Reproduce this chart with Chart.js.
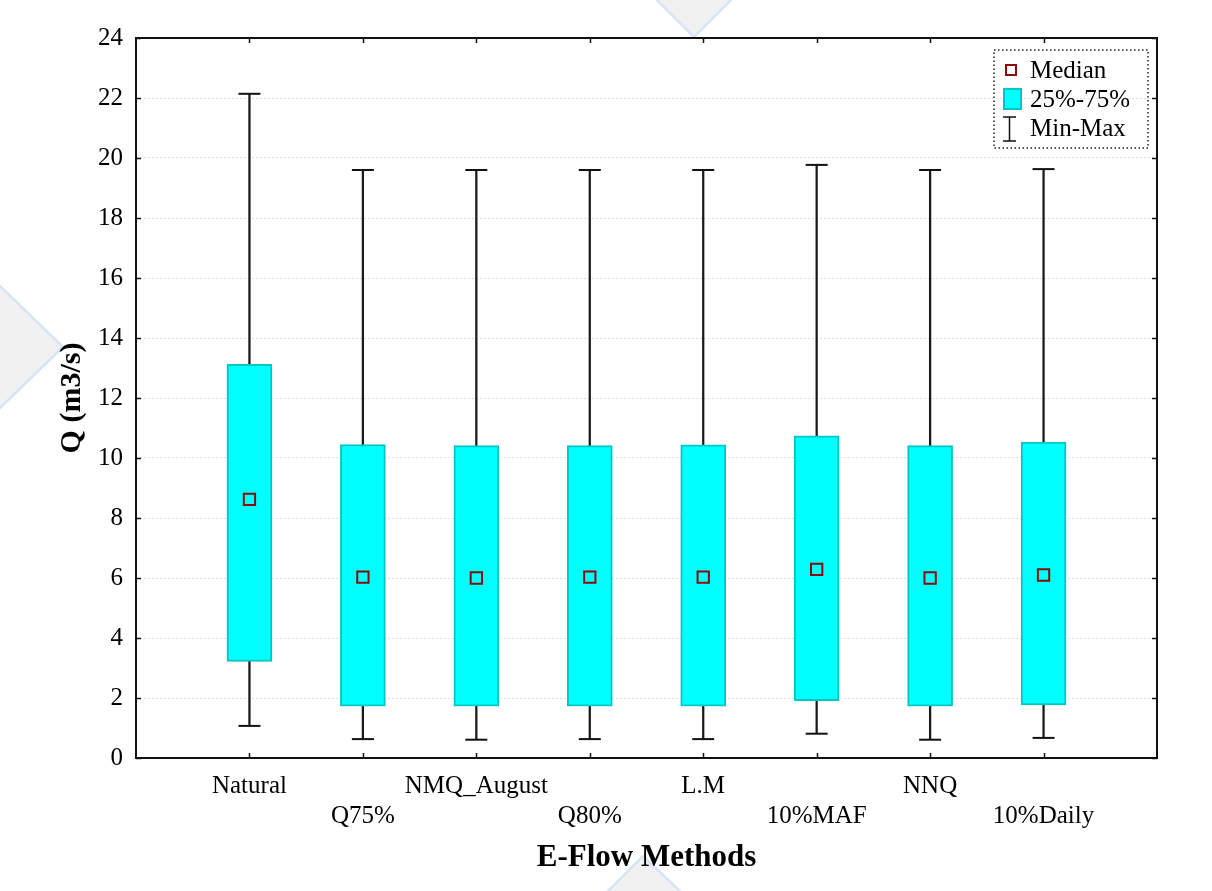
<!DOCTYPE html>
<html>
<head>
<meta charset="utf-8">
<title>E-Flow Methods</title>
<script src="https://cdn.jsdelivr.net/npm/chart.js@4.4.1/dist/chart.umd.min.js"></script>
<style>
  html, body { margin: 0; padding: 0; background: #ffffff; }
  #wrap { position: relative; width: 1212px; height: 891px; }
  #bg { position: absolute; left: 0; top: 0; }
  #chart { position: absolute; left: 0; top: 0; }
</style>
</head>
<body>
<div id="wrap">
  <svg id="bg" width="1212" height="891">
    <g fill="#f1f1f1" stroke="#d5e5f5" stroke-width="2.5">
      <polygon points="655,-2 733,-2 694,37"/>
      <polygon points="-2,284 63,347 -2,410"/>
      <polygon points="606,893 643,856 682,893"/>
    </g>
  </svg>
  <canvas id="chart" width="1212" height="891"></canvas>
</div>
<script>
// Methods along the horizontal axis
const methods = ['Natural', 'Q75%', 'NMQ_August', 'Q80%', 'L.M', '10%MAF', 'NNQ', '10%Daily'];

// Discharge statistics, Q (m3/s), one entry per method
const minQ    = [1.07, 0.63, 0.61, 0.63, 0.63, 0.81, 0.61, 0.67];
const q25     = [3.22, 1.73, 1.73, 1.73, 1.73, 1.91, 1.73, 1.77];
const medianQ = [8.62, 6.03, 6.00, 6.03, 6.03, 6.29, 6.00, 6.10];
const q75     = [13.12, 10.45, 10.41, 10.41, 10.44, 10.74, 10.41, 10.53];
const maxQ    = [22.14, 19.60, 19.60, 19.60, 19.60, 19.77, 19.60, 19.63];

// Value axis ticks
const yTicks = [0, 2, 4, 6, 8, 10, 12, 14, 16, 18, 20, 22, 24];

// Legend entries
const legendItems = ['Median', '25%-75%', 'Min-Max'];

const FONT = '"Liberation Serif", "Times New Roman", serif';
const CYAN = '#00ffff';
const CYAN_EDGE = '#00c6c6';
const MED_EDGE = '#8b0a0a';

const pos = methods.map((m, i) => i + 1);

const medianData = pos.map((x, i) => ({ x, y: medianQ[i] }));
const boxData = pos.map((x, i) => ({ x, y: [q25[i], q75[i]] }));
const capData = pos.map((x, i) => ({ x, y: minQ[i] }))
  .concat(pos.map((x, i) => ({ x, y: maxQ[i] })));
const stemData = pos.map((x, i) => ({ x, y: [minQ[i], maxQ[i]] }));

// Frame, inner tick marks and legend box
const framePlugin = {
  id: 'frame',
  afterDraw(chart) {
    const { ctx, chartArea: a, scales } = chart;
    ctx.save();
    ctx.strokeStyle = '#111';
    ctx.lineWidth = 2;
    ctx.strokeRect(a.left, a.top, a.right - a.left, a.bottom - a.top);

    ctx.lineWidth = 1.5;
    ctx.beginPath();
    pos.forEach(v => {
      const x = Math.round(scales.x.getPixelForValue(v)) + 0.5;
      ctx.moveTo(x, a.bottom); ctx.lineTo(x, a.bottom - 5);
      ctx.moveTo(x, a.top); ctx.lineTo(x, a.top + 5);
    });
    yTicks.forEach(v => {
      const y = Math.round(scales.y.getPixelForValue(v)) + 0.5;
      ctx.moveTo(a.left, y); ctx.lineTo(a.left + 5, y);
      ctx.moveTo(a.right, y); ctx.lineTo(a.right - 5, y);
    });
    ctx.stroke();

    // legend
    const lx = 994, ly = 50, lw = 154, lh = 98;
    ctx.setLineDash([1.5, 2.5]);
    ctx.lineWidth = 1.5;
    ctx.strokeStyle = '#222';
    ctx.strokeRect(lx, ly, lw, lh);
    ctx.setLineDash([]);

    const rows = [70, 99, 128];
    // median icon
    ctx.strokeStyle = MED_EDGE;
    ctx.lineWidth = 2;
    ctx.strokeRect(1006, rows[0] - 5, 10, 10);
    // quartile box icon
    ctx.fillStyle = CYAN;
    ctx.fillRect(1003, rows[1] - 11, 19, 22);
    ctx.strokeStyle = CYAN_EDGE;
    ctx.strokeRect(1004, rows[1] - 10, 17, 20);
    // whisker icon
    ctx.strokeStyle = '#111';
    ctx.lineWidth = 1.5;
    ctx.beginPath();
    ctx.moveTo(1009.5, rows[2] - 11); ctx.lineTo(1009.5, rows[2] + 13);
    ctx.moveTo(1003, rows[2] - 11); ctx.lineTo(1016, rows[2] - 11);
    ctx.moveTo(1003, rows[2] + 13); ctx.lineTo(1016, rows[2] + 13);
    ctx.stroke();

    ctx.fillStyle = '#000';
    ctx.font = '25px ' + FONT;
    ctx.textBaseline = 'middle';
    ctx.textAlign = 'left';
    legendItems.forEach((t, i) => ctx.fillText(t, 1030, rows[i] + 1));
    ctx.restore();
  }
};

new Chart(document.getElementById('chart'), {
  type: 'bar',
  data: {
    datasets: [
      {
        type: 'scatter',
        label: legendItems[0],
        data: medianData,
        pointStyle: 'rect',
        radius: 8,
        borderWidth: 2,
        borderColor: MED_EDGE,
        backgroundColor: 'rgba(0,0,0,0)'
      },
      {
        type: 'bar',
        label: legendItems[1],
        data: boxData,
        backgroundColor: CYAN,
        borderColor: CYAN_EDGE,
        borderWidth: 2,
        borderSkipped: false,
        barThickness: 45,
        grouped: false
      },
      {
        type: 'scatter',
        label: legendItems[2],
        data: capData,
        pointStyle: 'line',
        radius: 11,
        borderWidth: 2,
        borderColor: '#111'
      },
      {
        type: 'bar',
        label: 'stem',
        data: stemData,
        backgroundColor: '#1a1a1a',
        borderWidth: 0,
        barThickness: 1.6,
        grouped: false
      }
    ]
  },
  options: {
    responsive: false,
    animation: false,
    devicePixelRatio: 1,
    layout: { padding: { left: 0, top: 38, right: 55, bottom: 0 } },
    plugins: { legend: { display: false }, tooltip: { enabled: false } },
    scales: {
      x: {
        type: 'linear',
        position: 'bottom',
        min: 0,
        max: 9,
        offset: false,
        grid: { display: false, offset: false },
        border: { display: false },
        ticks: {
          stepSize: 1,
          autoSkip: false,
          maxRotation: 0,
          padding: 5,
          color: '#000',
          font: { family: FONT, size: 25 },
          callback: (v) => {
            const i = v - 1;
            if (i < 0 || i >= methods.length) return '';
            return i % 2 === 0 ? [methods[i]] : ['', methods[i]];
          }
        },
        title: {
          display: true,
          text: 'E-Flow Methods',
          color: '#000',
          font: { family: FONT, size: 31, weight: 'bold' },
          padding: { top: 0, bottom: 14 }
        },
        afterFit: (s) => { s.height = 133; }
      },
      y: {
        min: 0,
        max: 24,
        afterBuildTicks: (s) => { s.ticks = yTicks.map(v => ({ value: v })); },
        grid: { color: '#dedede', lineWidth: 1, drawTicks: false },
        border: { display: false, dash: [2, 2] },
        ticks: {
          padding: 13,
          color: '#000',
          font: { family: FONT, size: 25 }
        },
        title: {
          display: true,
          text: 'Q (m3/s)',
          color: '#000',
          font: { family: FONT, size: 30, weight: 'bold' },
          padding: { top: 54, bottom: 0 }
        },
        afterFit: (s) => { s.width = 136; }
      }
    }
  },
  plugins: [framePlugin]
});
</script>
</body>
</html>
